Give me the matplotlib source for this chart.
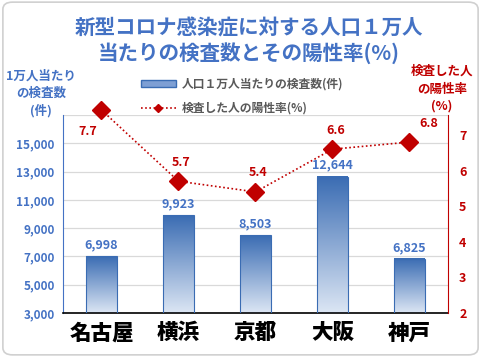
import numpy as np
import matplotlib.pyplot as plt
from matplotlib.lines import Line2D
from matplotlib.patches import Rectangle, FancyBboxPatch
from matplotlib.colors import LinearSegmentedColormap

plt.rcParams['font.family'] = ['Noto Sans CJK JP', 'DejaVu Sans']
plt.rcParams['font.weight'] = 'bold'

cities = ['名古屋', '横浜', '京都', '大阪', '神戸']
tests = [6998, 9923, 8503, 12644, 6825]
rate = [7.7, 5.7, 5.4, 6.6, 6.8]
left_ticks = [3000, 5000, 7000, 9000, 11000, 13000, 15000]
right_ticks = [2, 3, 4, 5, 6, 7]

BLUE = '#4472c4'
RED = '#c00000'

fig = plt.figure(figsize=(4.81, 3.57), dpi=100)
fig.patches.append(FancyBboxPatch((0.006, 0.006), 0.988, 0.988, boxstyle='round,pad=0,rounding_size=0.02',
                                  transform=fig.transFigure, fc='none', ec='#d0d0d0', lw=1.2, zorder=-1))

W, H = 481, 357
ax = fig.add_axes([63 / W, 1 - 313 / H, 385 / W, 198 / H])
ax.set_facecolor('none')
x = np.arange(len(cities))
bw = 0.4

grad = np.linspace(0, 1, 256).reshape(-1, 1)
cmap = LinearSegmentedColormap.from_list('g', ['#dce6f4', '#3a6cb3'])
for xi, v in zip(x, tests):
    ax.imshow(grad, extent=(xi - bw / 2, xi + bw / 2, 3000, v), origin='lower', cmap=cmap,
              aspect='auto', zorder=2)
    ax.add_patch(Rectangle((xi - bw / 2, 3000), bw, v - 3000, fill=False, ec='#3a6cb3', lw=0.8, zorder=3))
    ax.text(xi, v + 350, f'{v:,}', ha='center', va='bottom', color=BLUE, fontsize=9, fontweight='bold')
ax.set_xlim(-0.5, len(cities) - 0.5)
ax.set_ylim(3000, 17000)

ax.set_yticks(left_ticks)
ax.set_yticklabels([f'{t:,}' for t in left_ticks])
ax.tick_params(axis='y', length=0, labelsize=8.5, labelcolor=BLUE, pad=6)
ax.set_xticks(x)
ax.set_xticklabels(cities, fontsize=15.5, fontweight='black')
ax.tick_params(axis='x', length=0, pad=6)
for t in [3000, 5000, 7000, 9000, 11000, 13000, 15000, 17000]:
    ax.axhline(t, color='#d9d9d9', lw=0.9, zorder=0)
for s in ['top', 'right']:
    ax.spines[s].set_visible(False)
ax.spines['left'].set_color(BLUE)
ax.spines['bottom'].set_color('black')
ax.spines['bottom'].set_linewidth(1.2)

ax2 = ax.twinx()
ax2.set_ylim(2, 7.56)
ax2.plot(x, rate, color=RED, ls=(0, (1, 1.5)), lw=1.2, marker='D', ms=9, mfc=RED, mec=RED, zorder=5,
         clip_on=False)
for i, (xi, r) in enumerate(zip(x, rate)):
    if i == 0:
        ax2.annotate(f'{r}', (xi, r), xytext=(-10, -11), textcoords='offset points', ha='center', va='top',
                     color=RED, fontsize=9, fontweight='bold', annotation_clip=False)
    else:
        dx = 14 if i == 4 else 2
        ax2.annotate(f'{r}', (xi, r), xytext=(dx, 9), textcoords='offset points', ha='center', va='bottom',
                     color=RED, fontsize=9, fontweight='bold', annotation_clip=False)
ax2.set_yticks(right_ticks)
ax2.tick_params(axis='y', length=0, labelsize=9, labelcolor=RED, pad=8)
for s in ['top', 'left', 'bottom']:
    ax2.spines[s].set_visible(False)
ax2.spines['right'].set_color(RED)

fig.text(249 / W, 1 - 41 / H, '新型コロナ感染症に対する人口１万人\n当たりの検査数とその陽性率(%)',
         ha='center', va='center', color=BLUE, fontsize=14.8, fontweight='bold', linespacing=1.2)
fig.text(41 / W, 1 - 94 / H, '1万人当たり\nの検査数\n(件)', ha='center', va='center', color=BLUE,
         fontsize=9, fontweight='bold', linespacing=1.4)
fig.text(442 / W, 1 - 89 / H, '検査した人\nの陽性率\n(%)', ha='center', va='center', color=RED,
         fontsize=9, fontweight='bold', linespacing=1.45)

h1 = Rectangle((0, 0), 1, 1, fc='#7e9fd4', ec='#3a6cb3')
h2 = Line2D([], [], color=RED, ls=(0, (1, 1.5)), lw=1.2, marker='D', ms=4)
fig.legend([h1, h2], ['人口１万人当たりの検査数(件)', '検査した人の陽性率(%)'], loc='center left',
           bbox_to_anchor=(130 / W, 1 - 96 / H), frameon=False, fontsize=8.5, labelcolor='#595959',
           handlelength=3.0, handleheight=0.5, labelspacing=0.9, handletextpad=0.5)

fig.savefig('out.png', dpi=100)
